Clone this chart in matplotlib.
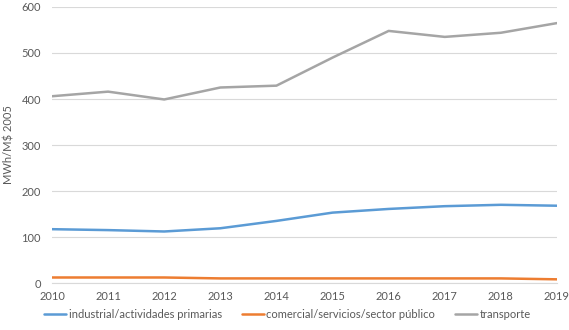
import matplotlib
matplotlib.use("Agg")
import matplotlib.pyplot as plt

years = [2010, 2011, 2012, 2013, 2014, 2015, 2016, 2017, 2018, 2019]
industrial = [117, 115, 112, 119, 135, 153, 161, 167, 170, 168]
comercial = [12, 12, 12, 10, 10, 10, 10, 10, 10, 8]
transporte = [406, 416, 399, 425, 429, 490, 548, 535, 544, 565]
series_names = ["industrial/actividades primarias",
                "comercial/servicios/sector público",
                "transporte"]
y_label = "MWh/M$ 2005"

plt.rcParams['font.family'] = ['Lato', 'DejaVu Sans']
text_color = "#595959"

fig = plt.figure(figsize=(5.69, 3.30), dpi=100)
ax = fig.add_axes([0.0914, 0.1424, 0.8875, 0.8364])

colors = ["#5B9BD5", "#ED7D31", "#A5A5A5"]
for vals, name, c in zip([industrial, comercial, transporte], series_names, colors):
    ax.plot(years, vals, color=c, lw=1.8, label=name, solid_capstyle="round")

ax.set_xlim(2010, 2019)
ax.set_ylim(0, 600)
ax.set_yticks(range(0, 601, 100))
ax.set_xticks(years)
ax.grid(axis="y", color="#D9D9D9", lw=0.8)
ax.set_axisbelow(True)
for s in ["top", "right", "left"]:
    ax.spines[s].set_visible(False)
ax.spines["bottom"].set_color("#D9D9D9")
ax.tick_params(axis="both", length=0, labelsize=8, colors=text_color)
ax.tick_params(axis="x", pad=6)
ax.tick_params(axis="y", pad=8)
ax.set_ylabel(y_label, fontsize=8, color=text_color, labelpad=5)

fig.legend(loc="lower center", bbox_to_anchor=(0.505, 0.0), ncol=3, frameon=False,
           fontsize=8, labelcolor=text_color, handlelength=2.0,
           handletextpad=0.2, columnspacing=1.8)

fig.savefig("out.png", dpi=100)
